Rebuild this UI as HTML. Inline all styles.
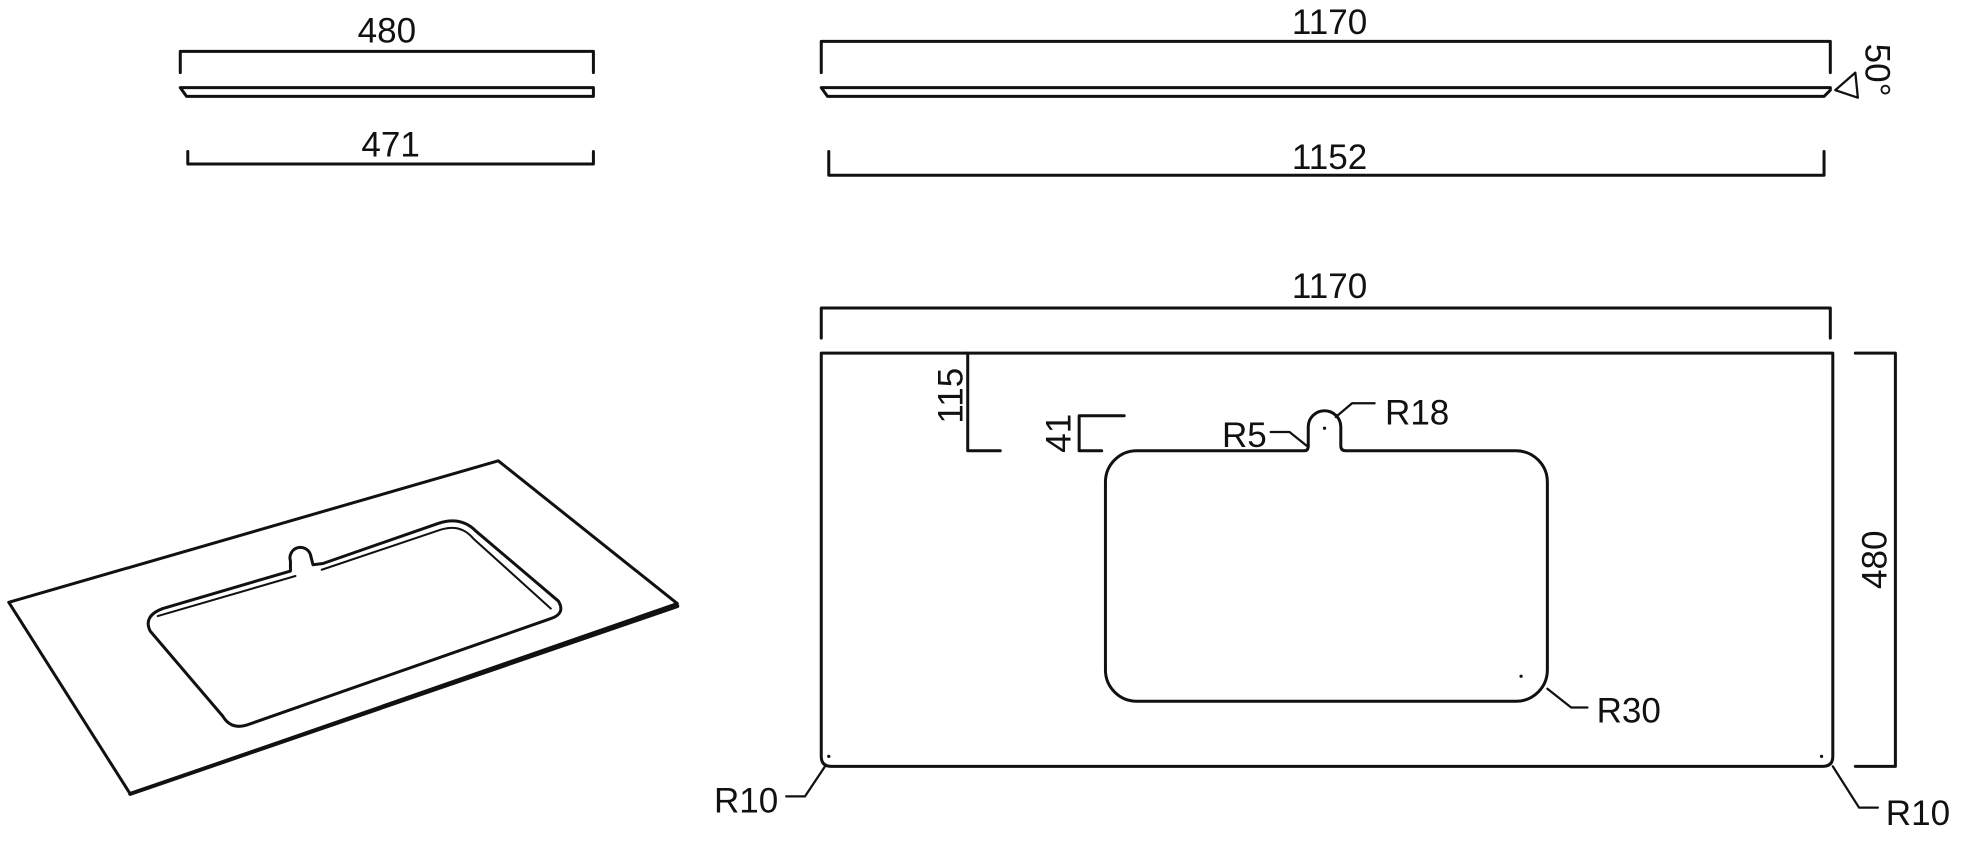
<!DOCTYPE html>
<html><head><style>html,body{margin:0;padding:0;background:#fff;}svg{display:block}</style></head>
<body>
<svg width="1963" height="849" viewBox="0 0 1568 678" preserveAspectRatio="none" xmlns="http://www.w3.org/2000/svg">
<g fill="none" stroke="#111" stroke-width="2.4" stroke-linejoin="round" stroke-linecap="round">
<!-- top-left -->
<polyline points="144,58 144,41 474,41 474,58"/>
<path d="M144,70 L474,70 L474,77 L149,77 Z"/>
<polyline points="150,121 150,131 474,131 474,121"/>
<!-- top-right -->
<polyline points="656,58 656,33 1462,33 1462,58"/>
<path d="M656,70 L1462,70 L1462,72 L1457,77 L661,77 Z"/>
<path d="M1482,58 L1466,72 L1484,78 Z" stroke-width="1.8"/>
<polyline points="662,121 662,140 1457,140 1457,121"/>
<!-- plan -->
<polyline points="656,270 656,246 1462,246 1462,270"/>
<path d="M656,282 L1464,282 L1464,604 Q1464,612 1456,612 L664,612 Q656,612 656,604 Z"/>
<polyline points="1482,282 1514,282 1514,612 1482,612"/>
<polyline points="773,282 773,360 799,360"/>
<polyline points="898,332 862,332 862,360 880,360"/>
<path d="M908,360 L1042,360 Q1045,360 1045,356 L1045,341 A13,13 0 0 1 1071,341 L1071,356 Q1071,360 1075,360 L1211,360 A25,25 0 0 1 1236,385 L1236,535 A25,25 0 0 1 1211,560 L908,560 A25,25 0 0 1 883,535 L883,385 A25,25 0 0 1 908,360 Z"/>
<polyline points="1045,357 1030,345 1015,345" stroke-width="1.8"/>
<polyline points="1067,333 1080,322 1098,322" stroke-width="1.8"/>
<polyline points="1236,550 1255,565 1268,565" stroke-width="1.8"/>
<polyline points="659,612 643,636 628,636" stroke-width="1.8"/>
<polyline points="1464,612 1485,645 1500,645" stroke-width="1.8"/>
<!-- 3D -->
<path d="M7,481 L398,368 L541,482 L104,634 Z"/>
<path d="M104,634 L541,484" stroke-width="3.2"/>
<path d="M130,486 L232,456 L232,448 A8,8 0 0 1 248,443 L250,451 L258,450 L350,418 Q368,412 380,424 L446,480 Q452,490 440,494 L200,578 Q185,584 178,572 L120,504 Q114,492 130,486 Z"/>
<path d="M126,492 L236,460 M257,455 L352,423 Q368,418 378,430 L440,486" stroke-width="1.6"/>
</g>
<g fill="#111" stroke="none">
<circle cx="1058" cy="342" r="1.3"/><circle cx="1215" cy="540" r="1.3"/>
<circle cx="662" cy="604" r="1.3"/><circle cx="1455" cy="604" r="1.3"/>
</g>
<g font-family="Liberation Sans, sans-serif" font-size="28" fill="#111" text-anchor="middle">
<text x="309" y="34">480</text>
<text x="312" y="125">471</text>
<text x="1062" y="27">1170</text>
<text x="1062" y="135">1152</text>
<text x="1062" y="238">1170</text>
<text transform="translate(1490,56) rotate(90)">50°</text>
<text transform="translate(1507,447) rotate(-90)">480</text>
<text transform="translate(769,316) rotate(-90)">115</text>
<text transform="translate(855,346) rotate(-90)">41</text>
<text x="994" y="357">R5</text>
<text x="1132" y="339">R18</text>
<text x="1301" y="577">R30</text>
<text x="596" y="649">R10</text>
<text x="1532" y="659">R10</text>
</g>
</svg>
</body></html>
